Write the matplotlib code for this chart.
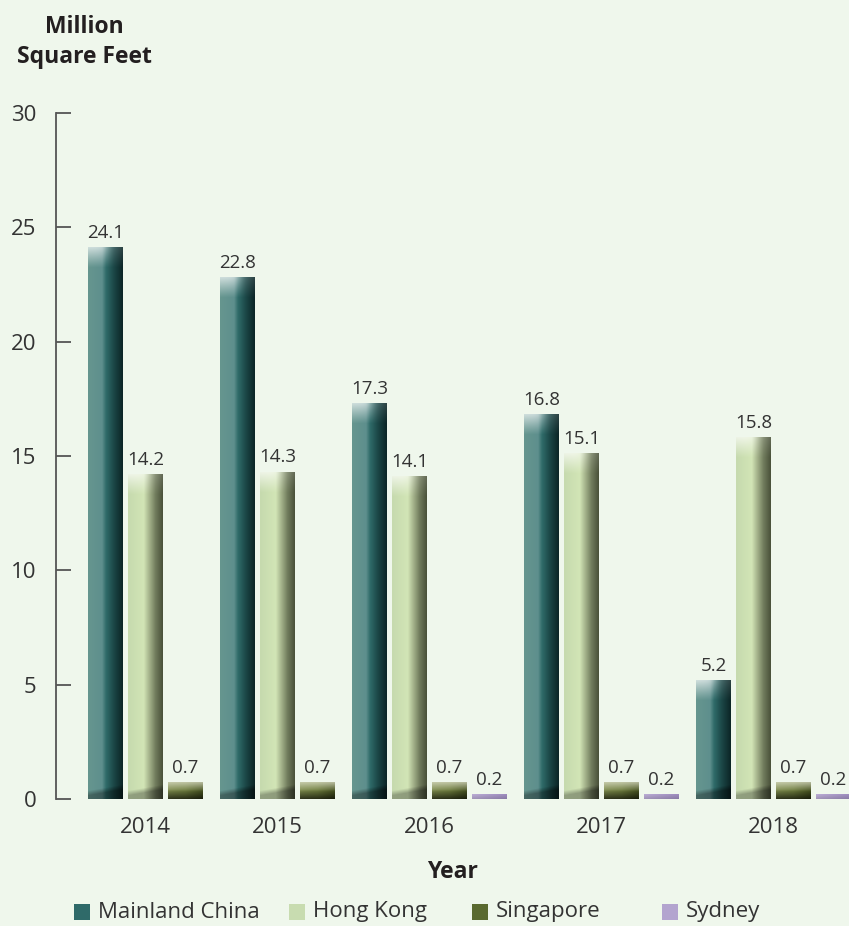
import numpy as np
import matplotlib
matplotlib.use("Agg")
import matplotlib.pyplot as plt
from matplotlib.colors import to_rgb
from matplotlib.patches import Rectangle

# ---------------- data ----------------
years = ["2014", "2015", "2016", "2017", "2018"]
series_names = ["Mainland China", "Hong Kong", "Singapore", "Sydney"]
mainland_china = [24.1, 22.8, 17.3, 16.8, 5.2]
hong_kong = [14.2, 14.3, 14.1, 15.1, 15.8]
singapore = [0.7, 0.7, 0.7, 0.7, 0.7]
sydney = [None, None, 0.2, 0.2, 0.2]

# ---------------- style ----------------
BG = "#eff7ec"
TXT = "#333333"
FONT = ["Open Sans", "DejaVu Sans"]
plt.rcParams["font.family"] = FONT

legend_colors = ["#2f6a69", "#c8dcb0", "#5a6a30", "#b3a4cf"]

# horizontal colour stops for each series
profiles = {
    0: [(0.0, "#66968f"), (0.4, "#5e8f8d"), (0.52, "#2f6b69"), (0.75, "#1b4646"), (1.0, "#0c2627")],
    1: [(0.0, "#c6daae"), (0.45, "#d2e5b6"), (0.58, "#aebd94"), (0.8, "#707b5c"), (1.0, "#4b533b")],
    2: [(0.0, "#7c8a4c"), (0.5, "#6c7b3c"), (1.0, "#46521f")],
    3: [(0.0, "#b9abd3"), (1.0, "#9d8cbd")],
}


def interp_profile(stops, w):
    xs = np.linspace(0, 1, w)
    pos = [s[0] for s in stops]
    cols = np.array([to_rgb(s[1]) for s in stops])
    return np.stack([np.interp(xs, pos, cols[:, k]) for k in range(3)], axis=1)


def bar_image(sidx, h_px, w_px=35):
    h = max(int(round(h_px)), 3)
    base = interp_profile(profiles[sidx], w_px)
    img = np.tile(base[None, :, :], (h, 1, 1))
    yy = np.arange(h)[:, None, None].astype(float)
    xs = np.linspace(0, 1, w_px)[None, :, None]
    if sidx in (0, 1):
        top_px, bot_px = 20.0, 15.0
        t = np.clip(1 - yy / top_px, 0, 1) ** 1.1
        hx = 1 / (1 + np.exp((xs - 0.55) / 0.09))
        strength = 0.68
        a = strength * t * (0.2 + 0.8 * hx)
        img = img * (1 - a) + a
        # bottom shade with soft, slightly diagonal boundary on left
        edge = (h - bot_px) + 6 * (1 - xs)
        b = np.clip((yy - edge) / 5.0, 0, 1)
        bs = 0.45 if sidx == 0 else 0.38
        img = img * (1 - bs * b * (0.7 + 0.3 * xs))
    elif sidx == 2:
        f = yy / max(h - 1, 1)
        a = 0.7 * np.clip(1 - f / 0.55, 0, 1)
        img = img * (1 - a) + a * np.array(to_rgb("#e0e2cc"))
        d = 0.6 * np.clip((f - 0.45) / 0.55, 0, 1)
        img = img * (1 - d)
    else:
        f = yy / max(h - 1, 1)
        img = img * (1 - 0.12 * f)
    return np.clip(img, 0, 1)


# ---------------- layout ----------------
W, H = 849, 926
fig = plt.figure(figsize=(W / 100, H / 100), dpi=100, facecolor=BG)
ax_left_px, ax_right_px = 56, 849
ax_top_px, ax_bot_px = 113, 799
ax = fig.add_axes([ax_left_px / W, 1 - ax_bot_px / H,
                   (ax_right_px - ax_left_px) / W, (ax_bot_px - ax_top_px) / H])
ax.set_facecolor(BG)

all_series = [mainland_china, hong_kong, singapore, sydney]
bar_w = 0.875
group_gap = 0.3
px_per_unit = (ax_bot_px - ax_top_px) / 30.0

slot = 0
group_centers = []
for g, yr in enumerate(years):
    xs_in_group = []
    for s, vals in enumerate(all_series):
        v = vals[g]
        if v is None:
            continue
        x = slot + group_gap * g
        slot += 1
        xs_in_group.append(x)
        ax.bar(x, v, width=bar_w, color=legend_colors[s], linewidth=0, zorder=2)
        img = bar_image(s, v * px_per_unit)
        ax.imshow(img, extent=(x - bar_w / 2, x + bar_w / 2, 0, v), origin="upper",
                  aspect="auto", interpolation="bilinear", zorder=3)
        ax.annotate(f"{v:.1f}", (x, v), xytext=(0, 4), textcoords="offset points",
                    ha="center", va="bottom", fontsize=13.5, color=TXT, zorder=4)
    group_centers.append((xs_in_group[0] + xs_in_group[-1]) / 2)

first_x = 0.0
last_x = (slot - 1) + group_gap * (len(years) - 1)
ax.set_xlim(first_x - (105.5 - ax_left_px) / 40.0, last_x + 15.5 / 40.0)
ax.set_ylim(0, 30)
ax.set_aspect("auto")

for sp in ["top", "right", "bottom"]:
    ax.spines[sp].set_visible(False)
ax.spines["left"].set_color("#555555")
ax.spines["left"].set_linewidth(1.3)

ax.set_yticks([0, 5, 10, 15, 20, 25, 30])
ax.tick_params(axis="y", direction="in", length=10.5, width=1.3, color="#555555",
               labelsize=16, labelcolor=TXT, pad=14)
ax.set_xticks(group_centers)
ax.set_xticklabels(years)
ax.tick_params(axis="x", length=0, labelsize=16, labelcolor=TXT, pad=13)

ax.set_xlabel("Year", fontsize=16.5, fontweight="bold", color="#231f20", labelpad=16)

fig.text(84 / W, 1 - 42 / H, "Million\nSquare Feet", ha="center", va="center",
         fontsize=16.5, fontweight="bold", color="#231f20", linespacing=1.3,
         multialignment="center")

# ---------------- legend ----------------
leg_marker_x = [74, 289, 472, 662]
leg_y = 912
for s, name in enumerate(series_names):
    fig.add_artist(Rectangle(((leg_marker_x[s]) / W, 1 - (leg_y + 8) / H), 16 / W, 16 / H,
                             transform=fig.transFigure, facecolor=legend_colors[s],
                             edgecolor="none"))
    fig.text((leg_marker_x[s] + 24) / W, 1 - leg_y / H, name, ha="left", va="center",
             fontsize=16, color=TXT)

fig.savefig("out.png", dpi=100, facecolor=BG)
